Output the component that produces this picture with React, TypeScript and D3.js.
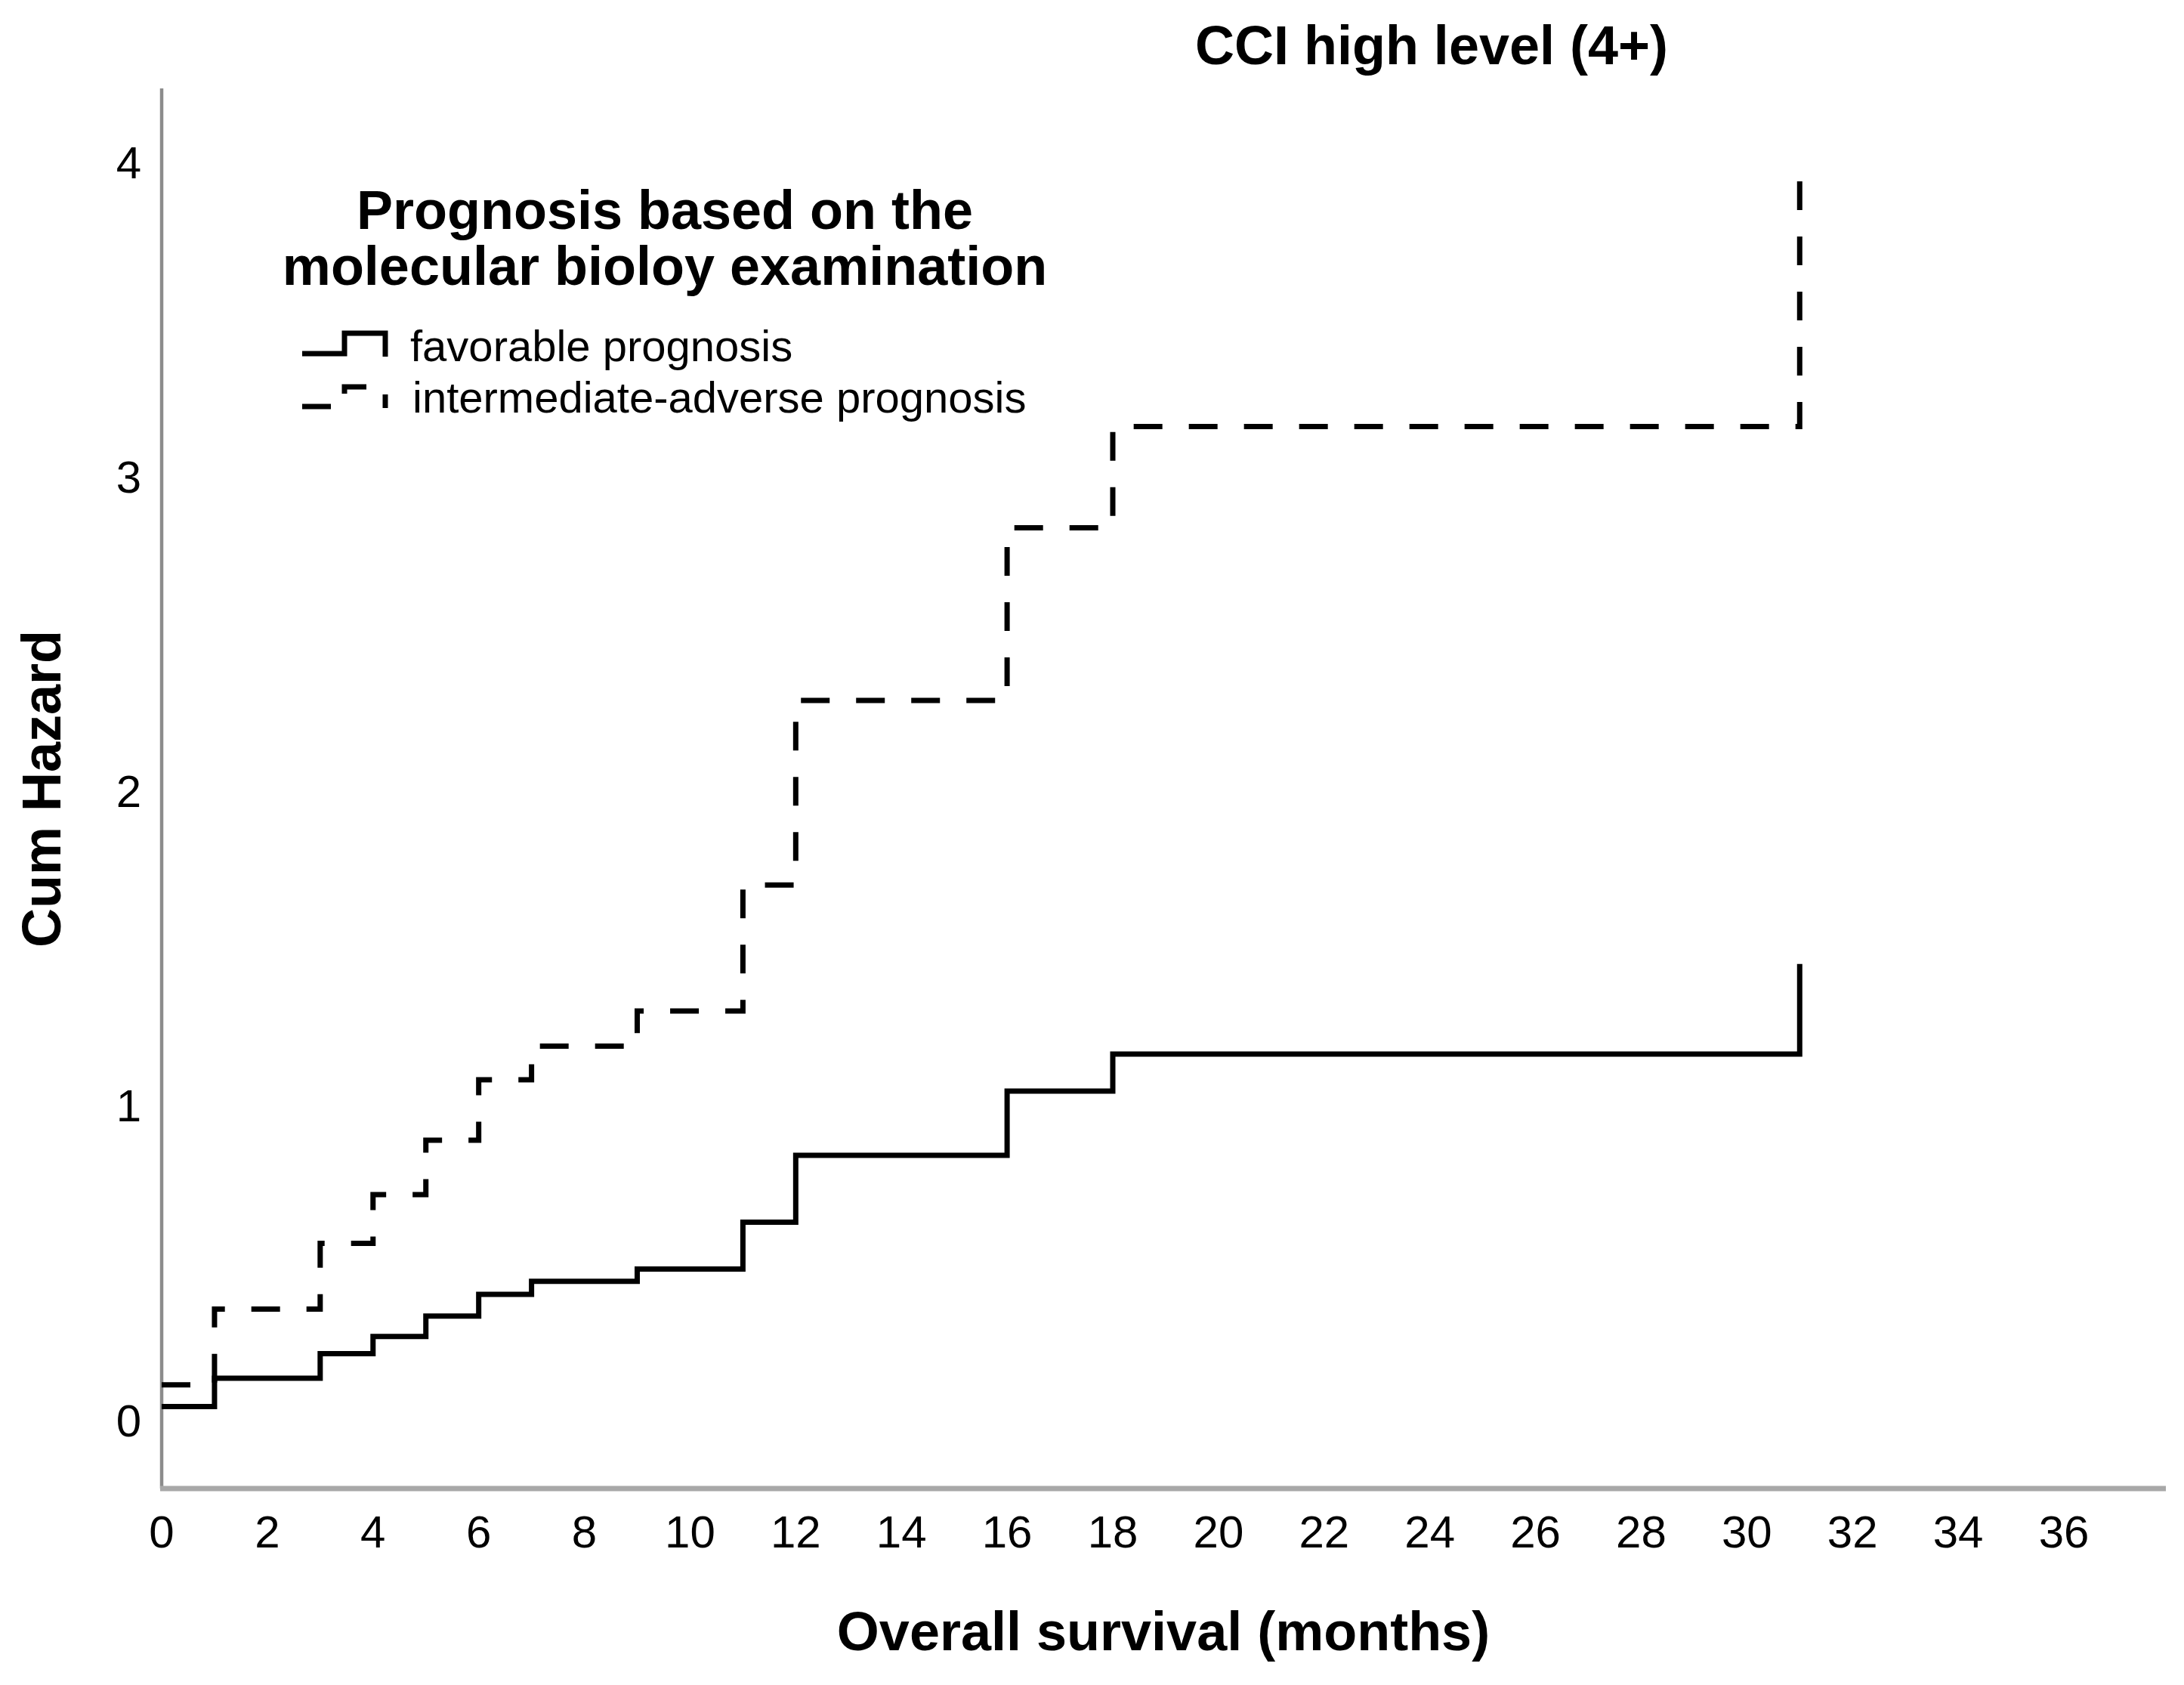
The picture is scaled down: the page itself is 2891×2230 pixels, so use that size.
import React from "react";
import * as d3 from "d3";

const W = 2891;
const H = 2230;

const chartTitle = "CCI high level (4+)";
const legendTitle = ["Prognosis based on the", "molecular bioloy examination"];
const seriesNames = ["favorable prognosis", "intermediate-adverse prognosis"];
const xAxisTitle = "Overall survival (months)";
const yAxisTitle = "Cum Hazard";

const xTicks = [0, 2, 4, 6, 8, 10, 12, 14, 16, 18, 20, 22, 24, 26, 28, 30, 32, 34, 36];
const yTicks = [0, 1, 2, 3, 4];

const favorableTimes = [0, 1, 3, 4, 5, 6, 7, 9, 11, 12, 16, 18, 31];
const favorableHazard = [0.042, 0.132, 0.21, 0.265, 0.33, 0.399, 0.44, 0.479, 0.628, 0.841, 1.045, 1.163, 1.449];

const adverseTimes = [0, 1, 3, 4, 5, 6, 7, 9, 11, 12, 16, 18, 31];
const adverseHazard = [0.111, 0.352, 0.561, 0.716, 0.889, 1.081, 1.188, 1.3, 1.7, 2.287, 2.836, 3.158, 3.946];

const FONT = "'Liberation Sans', Arial, Helvetica, sans-serif";

export default function App() {
  const x = d3.scaleLinear().domain([0, 37.93]).range([214, 2867]);
  const y = d3.scaleLinear().domain([-0.2186, 4.233]).range([1970, 117]);

  const line = d3
    .line<[number, number]>()
    .x((d) => x(d[0]))
    .y((d) => y(d[1]))
    .curve(d3.curveStepAfter);

  const favPts: [number, number][] = favorableTimes.map((t, i) => [t, favorableHazard[i]]);
  const advPts: [number, number][] = adverseTimes.map((t, i) => [t, adverseHazard[i]]);

  const dash = "38 35";

  return (
    <svg
      width={W}
      height={H}
      viewBox={`0 0 ${W} ${H}`}
      style={{ position: "absolute", left: 0, top: 0, background: "#fff" }}
      fontFamily={FONT}
    >
      <rect x={0} y={0} width={W} height={H} fill="#fff" />
      {/* title */}
      <text x={1895} y={85} textAnchor="middle" fontSize={72} fontWeight="bold" fill="#000">
        {chartTitle}
      </text>

      {/* axes */}
      <line x1={x(0)} x2={x(0)} y1={117} y2={1970} stroke="#8c8c8c" strokeWidth={4.5} />
      <line x1={x(0) - 2} x2={2867} y1={1970} y2={1970} stroke="#a8a8a8" strokeWidth={7} />

      {/* y ticks */}
      {yTicks.map((v) => (
        <text key={v} x={187} y={y(v)} dy="0.36em" textAnchor="end" fontSize={60} fill="#000">
          {v}
        </text>
      ))}
      {/* x ticks */}
      {xTicks.map((t) => (
        <text key={t} x={x(t)} y={2048} textAnchor="middle" fontSize={60} fill="#000">
          {t}
        </text>
      ))}

      {/* axis titles */}
      <text x={1540} y={2184} textAnchor="middle" fontSize={72} fontWeight="bold" fill="#000">
        {xAxisTitle}
      </text>
      <text
        transform={`translate(80,1044) rotate(-90)`}
        textAnchor="middle"
        fontSize={72}
        fontWeight="bold"
        fill="#000"
      >
        {yAxisTitle}
      </text>

      {/* curves */}
      <path d={line(favPts) || ""} fill="none" stroke="#000" strokeWidth={7} />
      <path d={line(advPts) || ""} fill="none" stroke="#000" strokeWidth={7} strokeDasharray={dash} />

      {/* legend */}
      <text x={880} y={303} textAnchor="middle" fontSize={72} fontWeight="bold" fill="#000">
        {legendTitle[0]}
      </text>
      <text x={880} y={377} textAnchor="middle" fontSize={72} fontWeight="bold" fill="#000">
        {legendTitle[1]}
      </text>
      <path d="M400,468 H456 V441 H510 V472" fill="none" stroke="#000" strokeWidth={7} />
      <path d="M400,538 H456 V512 H510 V540" fill="none" stroke="#000" strokeWidth={7} strokeDasharray={dash} />
      <text x={543} y={478} fontSize={58} fill="#000">
        {seriesNames[0]}
      </text>
      <text x={546} y={546} fontSize={58} fill="#000">
        {seriesNames[1]}
      </text>
    </svg>
  );
}
